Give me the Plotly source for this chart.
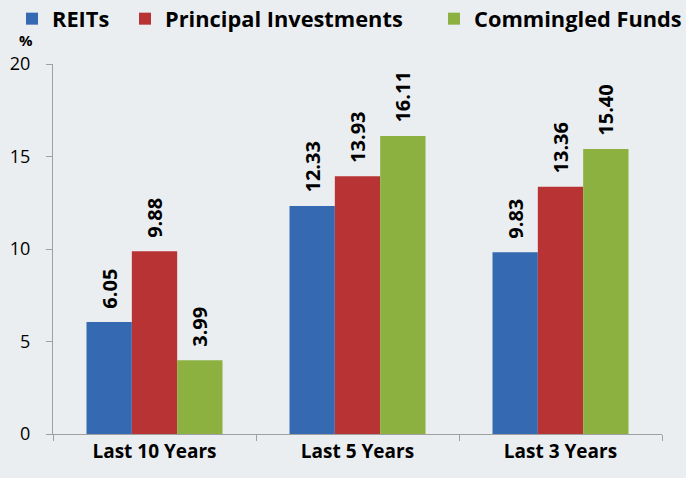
import plotly.graph_objects as go

categories = ["Last 10 Years", "Last 5 Years", "Last 3 Years"]
reits = [6.05, 12.33, 9.83]
principal = [9.88, 13.93, 13.36]
commingled = [3.99, 16.11, 15.40]
series_names = ["REITs", "Principal Investments", "Commingled Funds"]
colors = ["#3569B2", "#B83434", "#8CB140"]
legend_ids = ["legend", "legend2", "legend3"]
legend_x = [12, 125, 434]

fig = go.Figure()
for name, vals, c, lid in zip(series_names, [reits, principal, commingled], colors, legend_ids):
    fig.add_trace(go.Bar(
        x=categories, y=vals, name=name, legend=lid, showlegend=True,
        marker=dict(color=c, line=dict(width=0)),
        text=["\u00a0\u00a0" + f"{v:.2f}" for v in vals],
        textposition="outside", textangle=-90, constraintext="none",
        textfont=dict(family="Open Sans", size=20, color="#000000", weight="bold"),
        cliponaxis=False,
    ))

leg_common = dict(orientation="h", xref="container", yref="container",
                  y=1 - 19 / 478, xanchor="left", yanchor="middle",
                  font=dict(family="Open Sans", size=21.8, color="#000000", weight="bold"),
                  itemwidth=30, bgcolor="rgba(0,0,0,0)", visible=True)
fig.update_layout(
    width=686, height=478, showlegend=True,
    paper_bgcolor="#EBEEF0", plot_bgcolor="#EBEEF0",
    margin=dict(l=53, r=24, t=64, b=44, autoexpand=False),
    barmode="group", bargap=0.33, bargroupgap=0,
    font=dict(family="Open Sans", color="#000000"),
    legend=dict(x=legend_x[0] / 686, **leg_common),
    legend2=dict(x=legend_x[1] / 686, **leg_common),
    legend3=dict(x=legend_x[2] / 686, **leg_common),
)
fig.update_yaxes(range=[0, 20], tickvals=[0, 5, 10, 15, 20], showgrid=False,
                 showline=True, linecolor="#A0A0A0", linewidth=1,
                 ticks="outside", ticklen=6, tickcolor="#A0A0A0",
                 ticklabelstandoff=12,
                 tickfont=dict(family="Open Sans", size=18, color="#000000"),
                 zeroline=False)
fig.update_xaxes(showgrid=False, showline=True, linecolor="#A0A0A0", linewidth=1,
                 ticks="outside", ticklen=6, tickcolor="#A0A0A0", tickson="boundaries",
                 tickfont=dict(family="Open Sans", size=19, color="#000000", weight="bold"))
fig.add_annotation(text="%", x=0, xref="paper", y=1.0, yref="paper",
                   xshift=-36, yshift=12, showarrow=False,
                   font=dict(family="Open Sans", size=15, color="#000000", weight="bold"),
                   xanchor="left", yanchor="bottom")
fig.write_html("out.html", config={"displayModeBar": False},
               post_script="document.body.style.margin='0';document.body.style.background='#EBEEF0';")
